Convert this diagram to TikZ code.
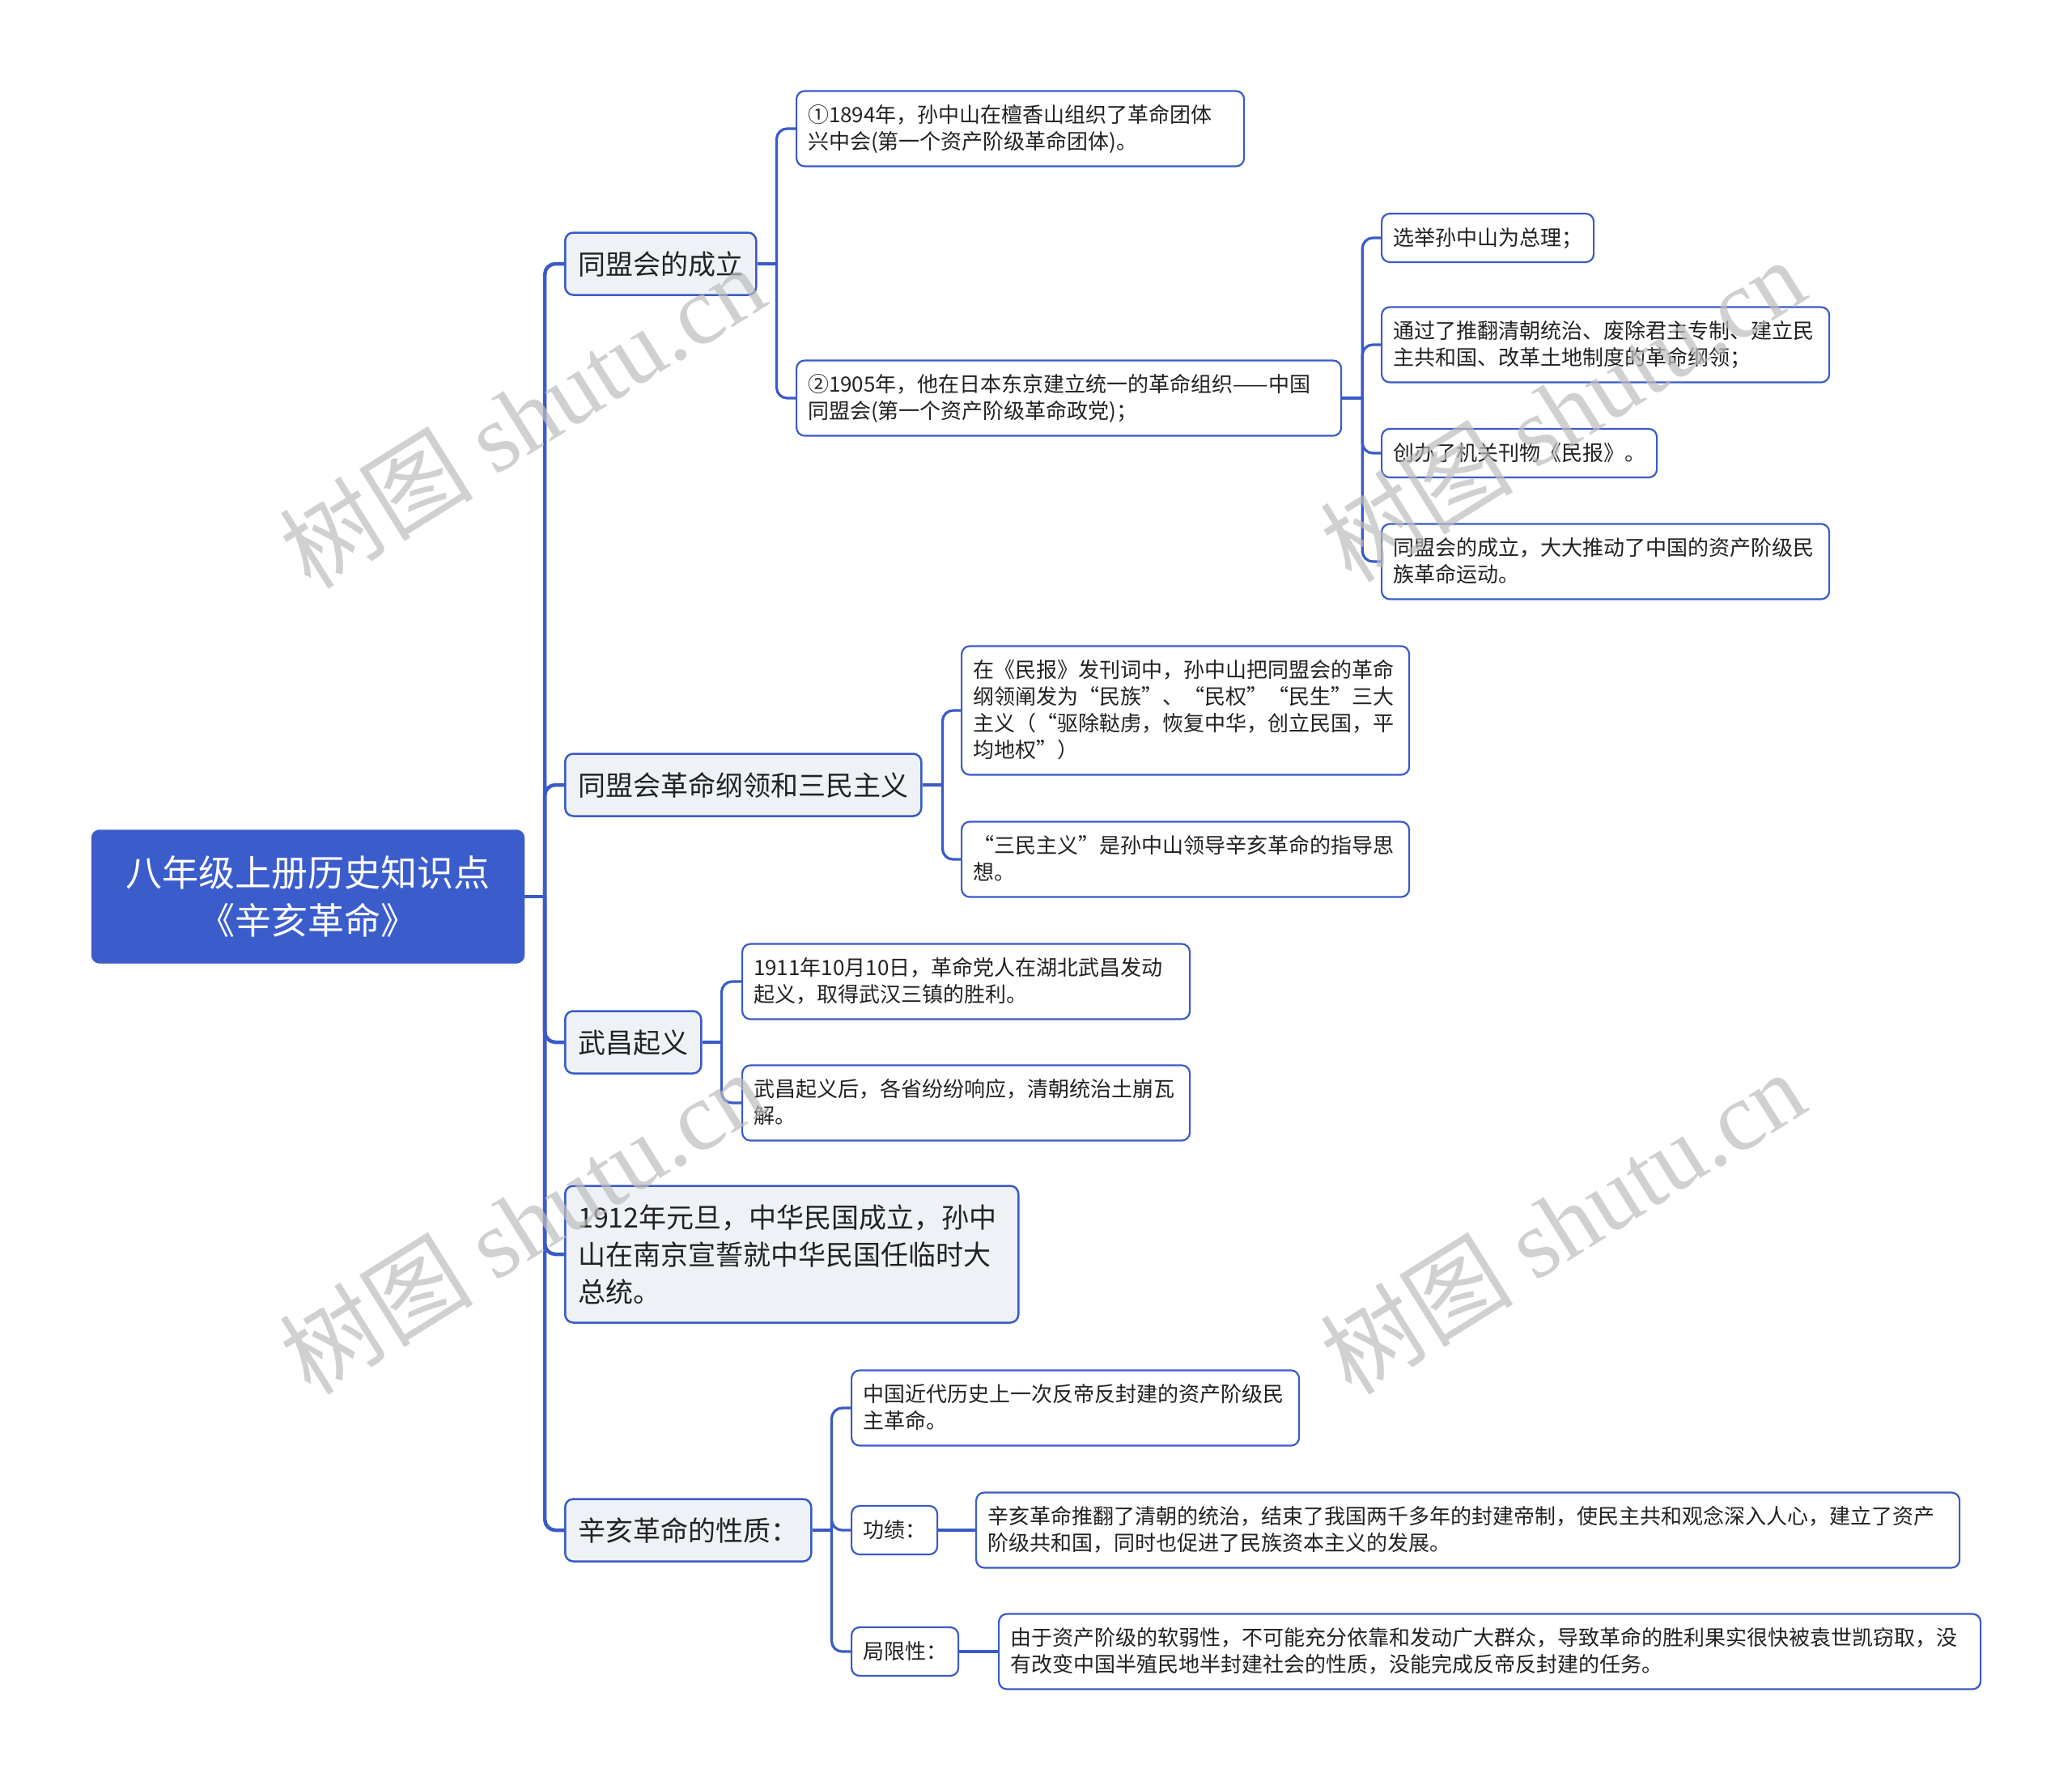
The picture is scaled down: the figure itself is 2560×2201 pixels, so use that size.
\documentclass[tikz,border=0pt]{standalone}
\usepackage{fontspec}
\setmainfont{Noto Sans CJK SC}
\newfontfamily\wmcjk{Noto Sans CJK SC}
\newfontfamily\wmlat{Liberation Serif}
\definecolor{lineblue}{HTML}{3A5BC7}
\definecolor{rootblue}{HTML}{3B5DCC}
\definecolor{lonefill}{HTML}{EEF1F6}
\definecolor{txt}{HTML}{222222}
\definecolor{wmgray}{HTML}{BDBDBD}
\newcommand\boxstrut{\rule[-0.215\baselineskip]{0pt}{\baselineskip}}
\tikzset{
  rootbox/.style={draw=rootblue, fill=rootblue, rounded corners=10pt, text=white,
    font=\fontsize{45pt}{59pt}\selectfont, align=center,
    minimum width=535pt, minimum height=165pt, inner sep=0pt},
  lonebox/.style={draw=lineblue, line width=2.5pt, fill=lonefill, rounded corners=10pt,
    text=txt, font=\fontsize{34pt}{46pt}\selectfont, align=left,
    inner xsep=16pt, inner ysep=15.5pt, anchor=west,
    execute at begin node=\boxstrut, execute at end node=\boxstrut},
  ltwobox/.style={draw=lineblue, line width=2.2pt, fill=white, rounded corners=10pt,
    text=txt, font=\fontsize{26pt}{33pt}\selectfont, align=left,
    inner xsep=14pt, inner ysep=13.5pt, anchor=west,
    execute at begin node=\boxstrut, execute at end node=\boxstrut},
  trunkline/.style={draw=lineblue, line width=4.5pt},
  twigline/.style={draw=lineblue, line width=3.2pt},
  curvecorner/.style={rounded corners=13pt},
  wmark/.style={text=wmgray, opacity=0.7, font=\fontsize{120pt}{120pt}\selectfont, rotate=32, inner sep=0pt},
}
\begin{document}
\begin{tikzpicture}[x=1pt,y=-1pt]
\useasboundingbox[fill=white] (0,0) rectangle (2560,2201);

% root
\node[rootbox] (root) at (380.5,1108) {八年级上册历史知识点\\《辛亥革命》};

% level 1
\node[lonebox] (a) at (697,326) {同盟会的成立};
\node[lonebox] (b) at (697,970) {同盟会革命纲领和三民主义};
\node[lonebox] (c) at (697,1288) {武昌起义};
\node[lonebox, text width=528pt] (d) at (697,1550) {1912年元旦，中华民国成立，孙中\\山在南京宣誓就中华民国任临时大\\总统。};
\node[lonebox] (e) at (697,1891) {辛亥革命的性质：};

% level 2 under a
\node[ltwobox, text width=525pt] (a1) at (983,159) {①1894年，孙中山在檀香山组织了革命团体\\兴中会(第一个资产阶级革命团体)。};
\node[ltwobox, text width=645pt] (a2) at (983,492) {②1905年，他在日本东京建立统一的革命组织——中国\\同盟会(第一个资产阶级革命政党)；};
% level 3 under a2
\node[ltwobox] (a21) at (1706,294) {选举孙中山为总理；};
\node[ltwobox, text width=525pt] (a22) at (1706,426) {通过了推翻清朝统治、废除君主专制、建立民\\主共和国、改革土地制度的革命纲领；};
\node[ltwobox] (a23) at (1706,560) {创办了机关刊物《民报》。};
\node[ltwobox, text width=525pt] (a24) at (1706,694) {同盟会的成立，大大推动了中国的资产阶级民\\族革命运动。};

% under b
\node[ltwobox, text width=525pt] (b1) at (1187,878) {在《民报》发刊词中，孙中山把同盟会的革命\\纲领阐发为“民族”、“民权”“民生”三大\\主义（“驱除鞑虏，恢复中华，创立民国，平\\均地权”）};
\node[ltwobox, text width=525pt] (b2) at (1187,1062) {“三民主义”是孙中山领导辛亥革命的指导思\\想。};

% under c
\node[ltwobox, text width=525pt] (c1) at (916,1213) {1911年10月10日，革命党人在湖北武昌发动\\起义，取得武汉三镇的胜利。};
\node[ltwobox, text width=525pt] (c2) at (916,1363) {武昌起义后，各省纷纷响应，清朝统治土崩瓦\\解。};

% under e
\node[ltwobox, text width=525pt] (e1) at (1051,1740) {中国近代历史上一次反帝反封建的资产阶级民\\主革命。};
\node[ltwobox] (e2) at (1051,1891) {功绩：};
\node[ltwobox] (e3) at (1051,2041) {局限性：};
\node[ltwobox, text width=1187pt] (e2a) at (1205,1891) {辛亥革命推翻了清朝的统治，结束了我国两千多年的封建帝制，使民主共和观念深入人心，建立了资产\\阶级共和国，同时也促进了民族资本主义的发展。};
\node[ltwobox, text width=1185pt] (e3a) at (1233,2041) {由于资产阶级的软弱性，不可能充分依靠和发动广大群众，导致革命的胜利果实很快被袁世凯窃取，没\\有改变中国半殖民地半封建社会的性质，没能完成反帝反封建的任务。};

% junctions
\coordinate (jr) at ([xshift=25pt]root.east);
\coordinate (ja) at ([xshift=24pt]a.east);
\coordinate (ja2) at ([xshift=25pt]a2.east);
\coordinate (jb) at ([xshift=25pt]b.east);
\coordinate (jc) at ([xshift=24pt]c.east);
\coordinate (je) at ([xshift=24pt]e.east);

% connectors root -> level 1
\draw[trunkline] (root.east) -- (jr);
\foreach \n in {a,b,c,d,e} {\draw[trunkline, curvecorner] (jr) |- (\n.west);}

% a
\draw[twigline] (a.east) -- (ja);
\foreach \n in {a1,a2} {\draw[twigline, curvecorner] (ja) |- (\n.west);}
% a2
\draw[twigline] (a2.east) -- (ja2);
\foreach \n in {a21,a22,a23,a24} {\draw[twigline, curvecorner] (ja2) |- (\n.west);}
% b
\draw[twigline] (b.east) -- (jb);
\foreach \n in {b1,b2} {\draw[twigline, curvecorner] (jb) |- (\n.west);}
% c
\draw[twigline] (c.east) -- (jc);
\foreach \n in {c1,c2} {\draw[twigline, curvecorner] (jc) |- (\n.west);}
% e
\draw[twigline] (e.east) -- (je);
\foreach \n in {e1,e2,e3} {\draw[twigline, curvecorner] (je) |- (\n.west);}
\draw[twigline] (e2.east) -- (e2a.west);
\draw[twigline] (e3.east) -- (e3a.west);

% watermarks
\node[wmark] (w1) at (645,514) {{\wmcjk 树图} {\wmlat shutu.cn}};
\node[wmark] (w2) at (1930,506) {{\wmcjk 树图} {\wmlat shutu.cn}};
\node[wmark] (w3) at (645,1510) {{\wmcjk 树图} {\wmlat shutu.cn}};
\node[wmark] (w4) at (1930,1510) {{\wmcjk 树图} {\wmlat shutu.cn}};
\end{tikzpicture}
\end{document}
